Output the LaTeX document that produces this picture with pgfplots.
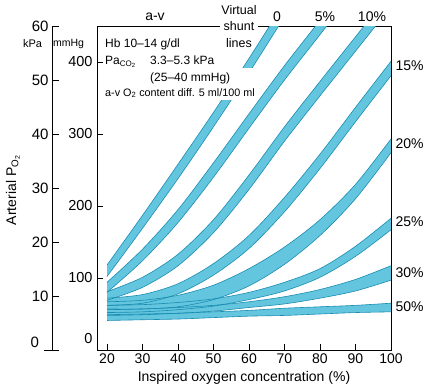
\documentclass[border=0pt]{standalone}
\usepackage{fontspec}
\setmainfont{Liberation Sans}
\usepackage{pgfplots}
\pgfplotsset{compat=1.18}
\definecolor{bandfill}{RGB}{100,198,222}
\definecolor{bandedge}{RGB}{25,140,178}
\pgfplotsset{edge/.style={smooth, draw=bandedge, line width=0.6pt, mark=none},
             band/.style={smooth, fill=bandfill, draw=none, mark=none}}
\begin{document}
\begin{tikzpicture}[x=1pt,y=1pt]
\path (0,0) rectangle (432,391);
% ---------------- main (mmHg) axis
\begin{axis}[
  at={(97pt,41pt)}, anchor=south west,
  scale only axis, width=294pt, height=324pt,
  xmin=17.18, xmax=100, ymin=0, ymax=450,
  xtick={20,30,...,100}, ytick={100,200,300,400},
  extra y ticks={0},
  extra y tick style={major tick length=0pt, yticklabel style={yshift=11pt}},
  xtick pos=bottom, ytick pos=left, tick align=inside,
  major tick length=6pt,
  tick style={black, line width=0.6pt},
  axis line style={line width=0.7pt},
  /pgf/number format/assume math mode=true,
  xticklabel style={font=\fontsize{14}{15}\selectfont},
  yticklabel style={font=\fontsize{14.5}{15}\selectfont, xshift=-1pt},
]
% ---- fills (upper forward, lower backward)
\addplot[band] coordinates {(20,118)(30,187)(40,258)(50,330)(60,405)(70,483)(75,522)(75,502)(70,463)(60,385)(50,310)(40,238)(30,169)(20,102)};
\addplot[band] coordinates {(20,94)(30,140)(40,195)(50,260)(60,328)(70,395)(80,458)(90,522)(90,502)(80,438)(70,375)(60,308)(50,240)(40,177)(30,124)(20,80)};
\addplot[band] coordinates {(20,81)(30,101)(40,133)(50,181)(60,243)(70,310)(80,373)(90,435)(100,497)(104,522)(104,502)(100,477)(90,415)(80,353)(70,290)(60,223)(50,163)(40,117)(30,87)(20,69)};
\addplot[band] coordinates {(20,72)(30,77)(40,92)(50,120)(60,159)(70,212)(80,272)(90,337)(100,401)(104,427)(104,407)(100,381)(90,317)(80,252)(70,192)(60,141)(50,104)(40,78)(30,65)(20,62)};
\addplot[band] coordinates {(20,67)(30,69)(40,76)(50,90)(60,113)(70,143)(80,181)(90,230)(100,293)(104,318)(104,298)(100,274)(90,210)(80,159)(70,119)(60,89)(50,70)(40,60)(30,57)(20,57)};
\addplot[band] coordinates {(20,62)(30,63)(40,66)(50,71)(60,80)(70,94)(80,113)(90,144)(100,183)(104,200)(104,183)(100,167)(90,130)(80,101)(70,82)(60,70)(50,61)(40,56)(30,53)(20,52)};
\addplot[band] coordinates {(20,56)(30,57)(40,59)(50,62)(60,67)(70,74)(80,84)(90,98)(100,117)(104,125)(104,103)(100,97)(90,82)(80,72)(70,64)(60,59)(50,54)(40,51)(30,49)(20,48)};
\addplot[band] coordinates {(20,49)(30,50)(40,51)(50,53)(60,55)(70,58)(80,60)(90,62)(100,65)(104,66)(104,54)(100,53)(90,52)(80,50)(70,48)(60,47)(50,45)(40,43)(30,42)(20,41)};
% ---- edges
\addplot[edge] coordinates {(20,118)(30,187)(40,258)(50,330)(60,405)(70,483)(75,522)};
\addplot[edge] coordinates {(20,102)(30,169)(40,238)(50,310)(60,385)(70,463)(75,502)};
\addplot[edge] coordinates {(20,94)(30,140)(40,195)(50,260)(60,328)(70,395)(80,458)(90,522)};
\addplot[edge] coordinates {(20,80)(30,124)(40,177)(50,240)(60,308)(70,375)(80,438)(90,502)};
\addplot[edge] coordinates {(20,81)(30,101)(40,133)(50,181)(60,243)(70,310)(80,373)(90,435)(100,497)};
\addplot[edge] coordinates {(20,69)(30,87)(40,117)(50,163)(60,223)(70,290)(80,353)(90,415)(100,477)};
\addplot[edge] coordinates {(20,72)(30,77)(40,92)(50,120)(60,159)(70,212)(80,272)(90,337)(100,401)};
\addplot[edge] coordinates {(20,62)(30,65)(40,78)(50,104)(60,141)(70,192)(80,252)(90,317)(100,381)};
\addplot[edge] coordinates {(20,67)(30,69)(40,76)(50,90)(60,113)(70,143)(80,181)(90,230)(100,293)};
\addplot[edge] coordinates {(20,57)(30,57)(40,60)(50,70)(60,89)(70,119)(80,159)(90,210)(100,274)};
\addplot[edge] coordinates {(20,62)(30,63)(40,66)(50,71)(60,80)(70,94)(80,113)(90,144)(100,183)};
\addplot[edge] coordinates {(20,52)(30,53)(40,56)(50,61)(60,70)(70,82)(80,101)(90,130)(100,167)};
\addplot[edge] coordinates {(20,56)(30,57)(40,59)(50,62)(60,67)(70,74)(80,84)(90,98)(100,117)};
\addplot[edge] coordinates {(20,48)(30,49)(40,51)(50,54)(60,59)(70,64)(80,72)(90,82)(100,97)};
\addplot[edge] coordinates {(20,49)(30,50)(40,51)(50,53)(60,55)(70,58)(80,60)(90,62)(100,65)};
\addplot[edge] coordinates {(20,41)(30,42)(40,43)(50,45)(60,47)(70,48)(80,50)(90,52)(100,53)};
\end{axis}
% ---------------- kPa axis
\begin{axis}[
  at={(52pt,41pt)}, anchor=south west,
  scale only axis, width=20pt, height=324pt,
  xmin=0, xmax=1, ymin=0, ymax=60,
  axis x line=none, axis y line=left,
  axis line style={-, line width=0.7pt},
  ytick={10,20,...,60},
  extra y ticks={0},
  extra y tick style={tick align=center, major tick length=15pt, yticklabel style={yshift=8pt, xshift=-2pt}},
  tick align=inside, major tick length=7pt,
  tick style={black, line width=0.6pt},
  /pgf/number format/assume math mode=true,
  ticklabel style={font=\fontsize{15}{16}\selectfont},
]
\addplot[draw=none] coordinates {(0,0)(1,60)};
\end{axis}
% ---------------- mask behind text block
\fill[white] (101,291) rectangle (256,323);
% ---------------- labels
\node[font=\fontsize{14}{16}\selectfont] at (244,13) {Inspired oxygen concentration (\%)};
\node[rotate=90, font=\fontsize{14}{16}\selectfont] at (13,201) {Arterial P\textsubscript{O\textsubscript{2}}};
\node[font=\fontsize{11}{12}\selectfont] at (32.5,347) {kPa};
\node[font=\fontsize{10.5}{12}\selectfont] at (68.5,347) {mmHg};
\node[font=\fontsize{14}{16}\selectfont, anchor=west] at (392,325) {15\%};
\node[font=\fontsize{14}{16}\selectfont, anchor=west] at (392,247) {20\%};
\node[font=\fontsize{14}{16}\selectfont, anchor=west] at (392,169) {25\%};
\node[font=\fontsize{14}{16}\selectfont, anchor=west] at (392,118) {30\%};
\node[font=\fontsize{14}{16}\selectfont, anchor=west] at (392,84) {50\%};
\node[font=\fontsize{14}{16}\selectfont] at (155,374) {a-v};
\node[font=\fontsize{14}{16}\selectfont] at (277,374) {0};
\node[font=\fontsize{14}{16}\selectfont] at (325,374) {5\%};
\node[font=\fontsize{14}{16}\selectfont] at (372,374) {10\%};
\node[font=\fontsize{12.5}{14}\selectfont] at (239,381) {Virtual};
\node[font=\fontsize{12.5}{14}\selectfont, fill=white, inner xsep=4pt, inner ysep=1pt] at (239,365) {shunt};
\node[font=\fontsize{12.5}{14}\selectfont] at (239,348) {lines};
% text block
\node[font=\fontsize{12}{14}\selectfont, anchor=west, inner sep=0pt] at (105,347) {Hb 10--14 g/dl};
\node[font=\fontsize{12}{14}\selectfont, anchor=west, inner sep=0pt] at (105,329) {Pa\textsubscript{CO\textsubscript{2}}};
\node[font=\fontsize{12}{14}\selectfont, anchor=west, inner sep=0pt] at (150,331) {3.3--5.3 kPa};
\node[font=\fontsize{12}{14}\selectfont, anchor=west, inner sep=0pt] at (150,313) {(25--40 mmHg)};
\node[font=\fontsize{10.8}{12}\selectfont, anchor=west, inner sep=0pt] at (105,298) {a-v O\textsubscript{2} content diff. 5 ml/100 ml};
\end{tikzpicture}
\end{document}
